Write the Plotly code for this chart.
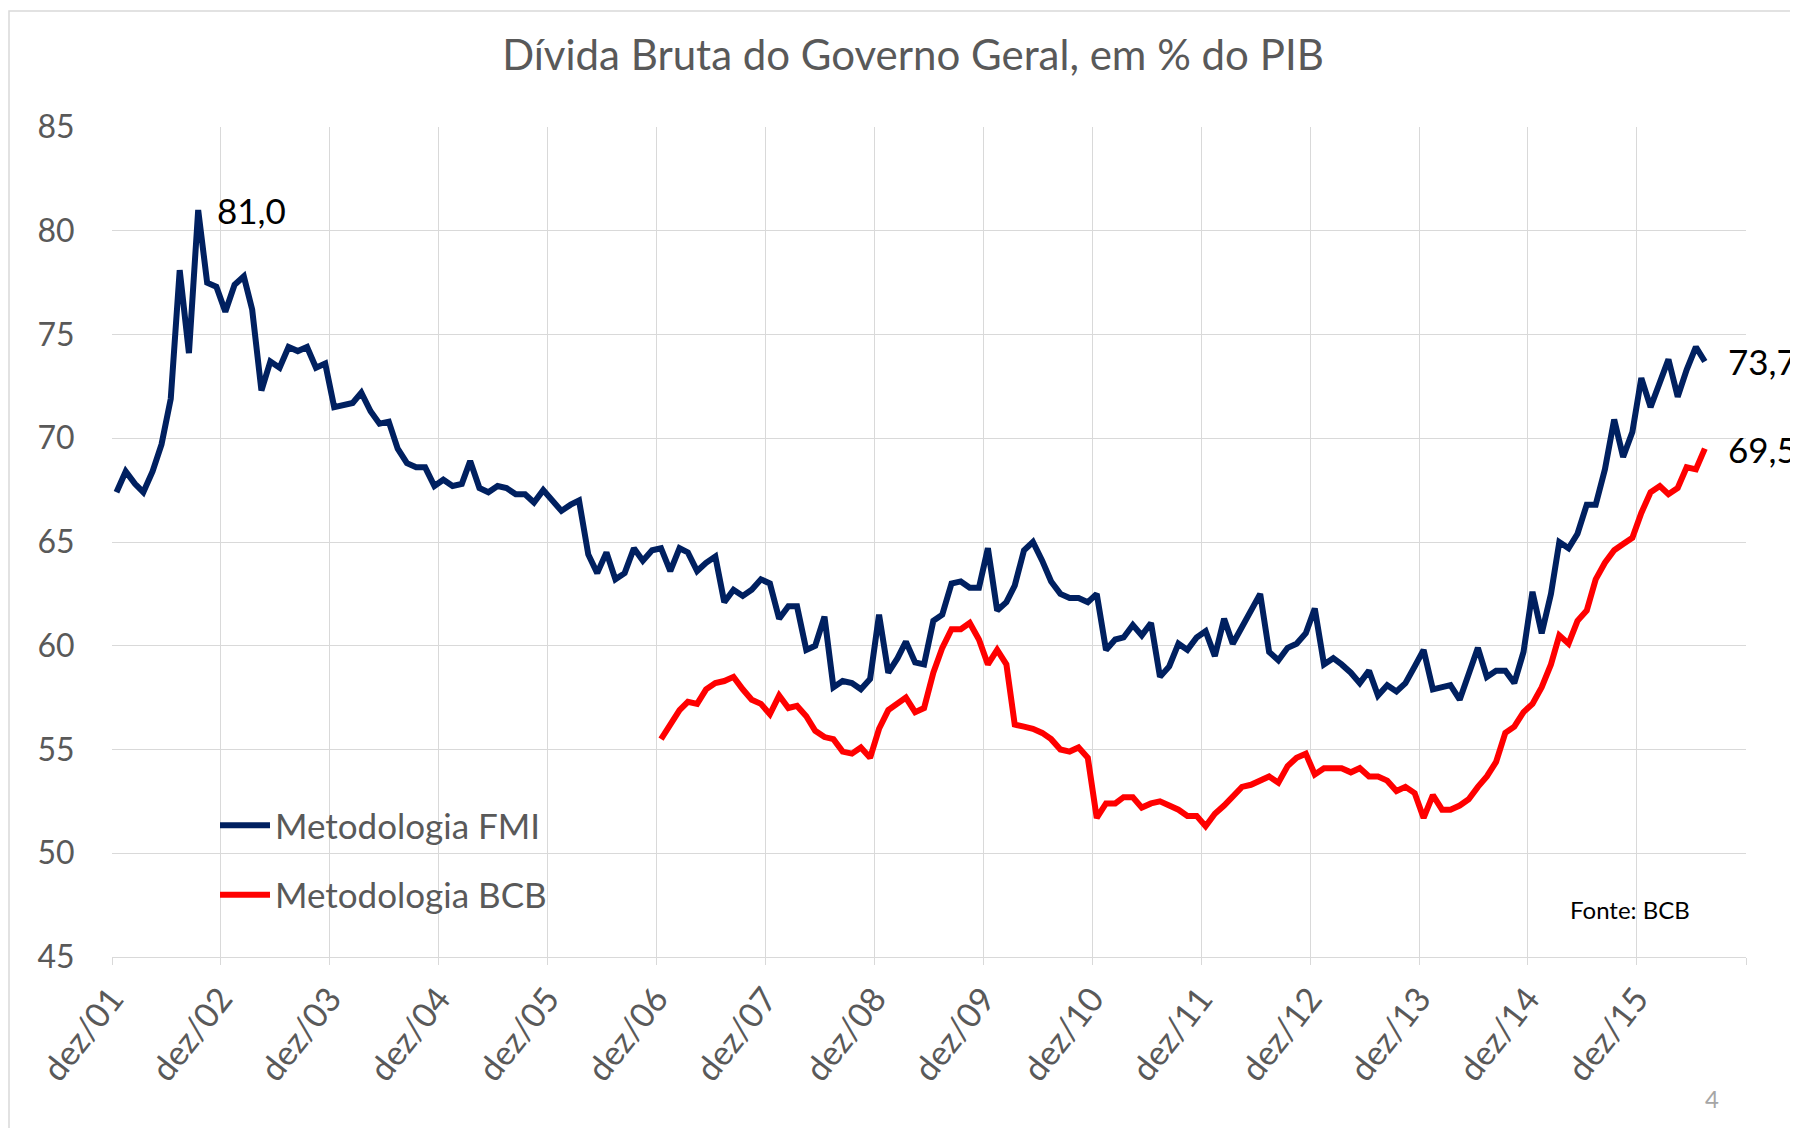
import pandas as pd
import plotly.graph_objects as go

# ---------------- data ----------------
title_text = "Dívida Bruta do Governo Geral, em % do PIB"
tick_years = list(range(2001, 2017))
tick_labels = ["dez/%02d" % (y % 100) for y in range(2001, 2016)] + [""]

fmi = [
    67.4, 68.4, 67.8, 67.4, 68.4, 69.7, 71.9, 78.1, 74.1, 81.0,
    77.5, 77.3, 76.1, 77.4, 77.8, 76.2, 72.3, 73.7, 73.4, 74.4,
    74.2, 74.4, 73.4, 73.6, 71.5, 71.6, 71.7, 72.2, 71.3, 70.7,
    70.8, 69.5, 68.8, 68.6, 68.6, 67.7, 68.0, 67.7, 67.8, 68.9,
    67.6, 67.4, 67.7, 67.6, 67.3, 67.3,
    66.9, 67.5, 67.0, 66.5, 66.8, 67.0, 64.4, 63.5, 64.5, 63.2,
    63.5, 64.7, 64.1, 64.6, 64.7, 63.6, 64.7, 64.5, 63.6, 64.0,
    64.3, 62.1, 62.7, 62.4, 62.7, 63.2, 63.0, 61.3, 61.9, 61.9,
    59.8, 60.0, 61.4, 58.0, 58.3, 58.2, 57.9, 58.4, 61.5, 58.7,
    59.4, 60.2, 59.2, 59.1, 61.2,
    61.5, 63.0, 63.1, 62.8, 62.8, 64.7, 61.7, 62.1, 62.9, 64.6,
    65.0, 64.1, 63.1, 62.5, 62.3, 62.3, 62.1, 62.5, 59.8, 60.3,
    60.4, 61.0, 60.5, 61.1, 58.5, 59.0, 60.1, 59.8, 60.4, 60.7,
    59.5, 61.3, 60.1, 60.9, 61.7, 62.5, 59.7, 59.3, 59.9, 60.1,
    60.6, 61.8, 59.1, 59.4, 59.1,
    58.7, 58.2, 58.8, 57.6, 58.1, 57.8, 58.2, 59.0, 59.8, 57.9,
    58.0, 58.1, 57.4, 58.6, 59.9, 58.5, 58.8, 58.8, 58.2, 59.7,
    62.6, 60.6, 62.5, 65.0, 64.7, 65.4, 66.8, 66.8, 68.5, 70.9,
    69.1, 70.3, 72.9, 71.5, 72.6, 73.8, 72.0, 73.3, 74.4, 73.7,
]

bcb = [
    55.5, 56.2, 56.9, 57.3, 57.2, 57.9, 58.2, 58.3, 58.5, 57.9,
    57.4, 57.2, 56.7, 57.6, 57.0, 57.1, 56.6, 55.9, 55.6, 55.5,
    54.9, 54.8, 55.1, 54.6, 56.0, 56.9, 57.2, 57.5, 56.8, 57.0,
    58.7,
    59.9, 60.8, 60.8, 61.1, 60.3, 59.1, 59.8, 59.1, 56.2, 56.1,
    56.0, 55.8, 55.5, 55.0, 54.9, 55.1, 54.6, 51.7, 52.4, 52.4,
    52.7, 52.7, 52.2, 52.4, 52.5, 52.3, 52.1, 51.8, 51.8, 51.3,
    51.9, 52.3, 52.7, 53.2, 53.3, 53.5, 53.7, 53.4, 54.2, 54.6,
    54.8, 53.8, 54.1, 54.1, 54.1,
    53.9, 54.1, 53.7, 53.7, 53.5, 53.0, 53.2, 52.9, 51.7, 52.8,
    52.1, 52.1, 52.3, 52.6, 53.2, 53.7, 54.4, 55.8, 56.1, 56.8,
    57.2, 58.0, 59.1, 60.5, 60.1, 61.2, 61.7, 63.2, 64.0, 64.6,
    64.9, 65.2, 66.4, 67.4, 67.7, 67.3, 67.6, 68.6, 68.5, 69.5,
]

months = pd.date_range("2001-12-01", periods=len(fmi), freq="MS")
x_fmi = months + pd.Timedelta(days=15)
x_bcb = x_fmi[len(fmi) - len(bcb):]
peak_idx = fmi.index(max(fmi))

NAVY = "#002060"
RED = "#FF0000"
GRAY_TXT = "#595959"
GRID = "#D9D9D9"
FONT = "Lato, 'Open Sans', sans-serif"

fig = go.Figure()
fig.add_trace(go.Scatter(x=x_fmi, y=fmi, mode="lines", name="Metodologia FMI",
                         legendgroup="a",
                         line=dict(color=NAVY, width=6, shape="linear")))
fig.add_trace(go.Scatter(x=x_bcb, y=bcb, mode="lines", name="Metodologia BCB",
                         legendgroup="b",
                         line=dict(color=RED, width=6, shape="linear")))

# page offset of 8px (body margin) is accounted for: figure coords = page - 8
W, H = 1790, 1120
L, R, T, B = 104, 52, 119, 171
pw, ph = W - L - R, H - T - B

def px_x(p):
    return (p - L) / pw

def px_y(p):
    return (H - B - p) / ph

fig.update_layout(
    width=W, height=H,
    margin=dict(l=L, r=R, t=T, b=B),
    paper_bgcolor="white", plot_bgcolor="white",
    font=dict(family=FONT, color=GRAY_TXT),
    title=dict(text=title_text, x=px_x(905), xref="paper", xanchor="center",
               y=1 - 47 / H, yref="container", yanchor="middle",
               font=dict(size=42, color=GRAY_TXT, family=FONT)),
    showlegend=True,
    legend=dict(x=px_x(207), y=px_y(788), xanchor="left", yanchor="top",
                bgcolor="rgba(0,0,0,0)", font=dict(size=35, color=GRAY_TXT, family=FONT),
                tracegroupgap=21, itemwidth=50),
    xaxis=dict(
        type="date",
        range=[pd.Timestamp("2001-12-01"), pd.Timestamp("2016-12-01")],
        tickvals=[pd.Timestamp(f"{y}-12-01") for y in tick_years],
        ticktext=tick_labels,
        tickangle=-52,
        showgrid=True, gridcolor=GRID, gridwidth=1.3,
        ticks="outside", ticklen=7, tickcolor=GRID, tickwidth=1.3,
        showline=True, linecolor=GRID, linewidth=1.3,
        tickfont=dict(size=34, color=GRAY_TXT, family=FONT),
        zeroline=False,
    ),
    yaxis=dict(
        range=[45, 85], dtick=5, tick0=45,
        showgrid=True, gridcolor=GRID, gridwidth=1.3,
        ticks="outside", ticklen=30, tickcolor="rgba(0,0,0,0)",
        showline=False, zeroline=False,
        tickfont=dict(size=32, color=GRAY_TXT, family=FONT),
    ),
)

fig.add_annotation(x=x_fmi[peak_idx], y=fmi[peak_idx], text="81,0", showarrow=False,
                   xanchor="left", yanchor="middle", xshift=17,
                   font=dict(size=35, color="black", family=FONT))
fig.add_annotation(x=x_fmi[-1], y=fmi[-1], text="73,7", showarrow=False,
                   xanchor="left", yanchor="middle", xshift=21,
                   font=dict(size=35, color="black", family=FONT))
fig.add_annotation(x=x_bcb[-1], y=bcb[-1], text="69,5", showarrow=False,
                   xanchor="left", yanchor="middle", xshift=21,
                   font=dict(size=35, color="black", family=FONT))
fig.add_annotation(x=px_x(1560), y=px_y(901), xref="paper", yref="paper",
                   text="Fonte: BCB", showarrow=False, xanchor="left", yanchor="middle",
                   font=dict(size=24, color="black", family=FONT))
fig.add_annotation(x=px_x(1704), y=px_y(1090), xref="paper", yref="paper",
                   text="4", showarrow=False, xanchor="center", yanchor="middle",
                   font=dict(size=24, color="#A6A6A6", family=FONT))

# outer chart-area border
fig.add_shape(type="rect", xref="paper", yref="paper",
              x0=px_x(1), x1=px_x(1830), y0=px_y(1160), y1=px_y(3),
              line=dict(color=GRID, width=1.5), fillcolor="rgba(0,0,0,0)", layer="below")

fig.write_html("out.html")
